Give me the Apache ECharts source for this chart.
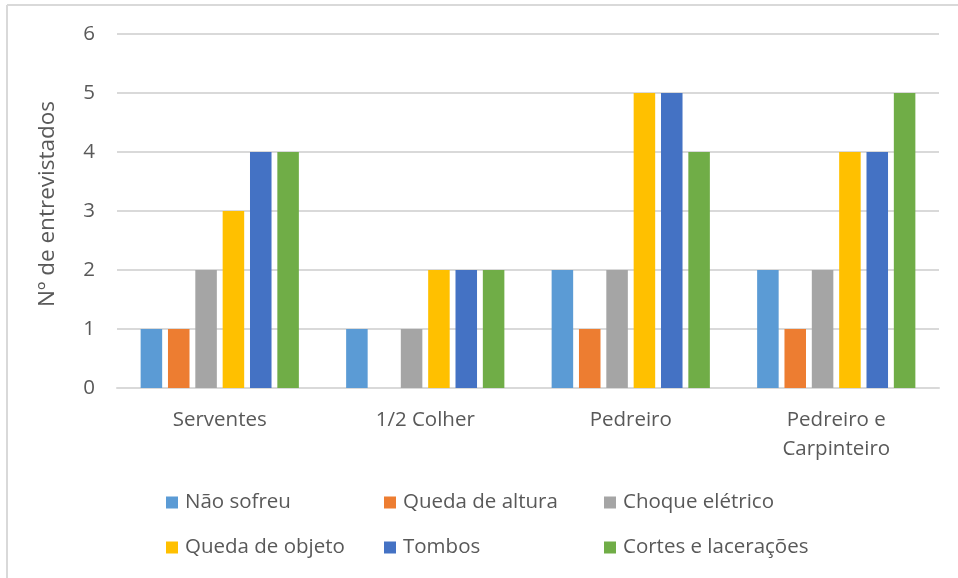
<!DOCTYPE html>
<html>
<head>
<meta charset="utf-8">
<script src="https://cdn.jsdelivr.net/npm/echarts@6/dist/echarts.min.js"></script>
<style>
  html, body { margin: 0; padding: 0; background: #fff; }
  #chart { width: 958px; height: 578px; }
</style>
</head>
<body>
<div id="chart"></div>
<script>
// Job categories on the x axis
const categories = ['Serventes', '1/2 Colher', 'Pedreiro', 'Pedreiro e\nCarpinteiro'];

// Number of interviewees per type of accident
const naoSofreu = [1, 1, 2, 2];
const quedaAltura = [1, 0, 1, 1];
const choqueEletrico = [2, 1, 2, 2];
const quedaObjeto = [3, 2, 5, 4];
const tombos = [4, 2, 5, 4];
const cortes = [4, 2, 4, 5];

const seriesNames = ['Não sofreu', 'Queda de altura', 'Choque elétrico',
                     'Queda de objeto', 'Tombos', 'Cortes e lacerações'];
const seriesData = [naoSofreu, quedaAltura, choqueEletrico, quedaObjeto, tombos, cortes];
const colors = ['#5B9BD5', '#ED7D31', '#A5A5A5', '#FFC000', '#4472C4', '#70AD47'];

const yTicks = [0, 1, 2, 3, 4, 5, 6];

const FONT = 'Open Sans';
const TEXT = '#595959';

const chart = echarts.init(document.getElementById('chart'), null, { renderer: 'canvas' });

// Legend laid out as a 3-column grid, one legend block per entry
const legendCols = [161, 379, 599];
const legendRows = [487, 532];
const legends = seriesNames.map((name, i) => ({
  data: [name],
  left: legendCols[i % 3],
  top: legendRows[Math.floor(i / 3)],
  itemWidth: 12,
  itemHeight: 12,
  icon: 'rect',
  selectedMode: false,
  textStyle: { fontFamily: FONT, fontSize: 20.5, color: TEXT, padding: [0, 0, 0, 2] }
}));

chart.setOption({
  animation: false,
  color: colors,
  graphic: [
    { type: 'line', shape: { x1: 7, y1: 5, x2: 958, y2: 5 }, style: { stroke: '#D9D9D9', lineWidth: 2 } },
    { type: 'line', shape: { x1: 7, y1: 5, x2: 7, y2: 578 }, style: { stroke: '#D9D9D9', lineWidth: 2 } }
  ],
  grid: { left: 117, right: 19, top: 34, bottom: 190 },
  legend: legends,
  xAxis: {
    type: 'category',
    data: categories,
    axisLine: { show: true, lineStyle: { color: '#D9D9D9', width: 2 } },
    axisTick: { show: false },
    axisLabel: { fontFamily: FONT, fontSize: 20.5, color: TEXT, margin: 18, lineHeight: 29 }
  },
  yAxis: {
    type: 'value',
    min: 0,
    max: 6,
    interval: 1,
    name: 'Nº de entrevistados',
    nameLocation: 'middle',
    nameGap: 58,
    nameTextStyle: { fontFamily: FONT, fontSize: 22.5, color: TEXT, padding: [0, 0, 0, 14] },
    axisLine: { show: false },
    axisTick: { show: false },
    axisLabel: {
      fontFamily: FONT, fontSize: 20.5, color: TEXT, margin: 22,
      formatter: v => yTicks.includes(v) ? String(v) : ''
    },
    splitLine: { lineStyle: { color: '#D9D9D9', width: 2 } }
  },
  series: seriesData.map((d, i) => ({
    name: seriesNames[i],
    type: 'bar',
    data: d,
    barGap: '27%',
    barCategoryGap: '23%',
    itemStyle: { color: colors[i] }
  }))
});
</script>
</body>
</html>
